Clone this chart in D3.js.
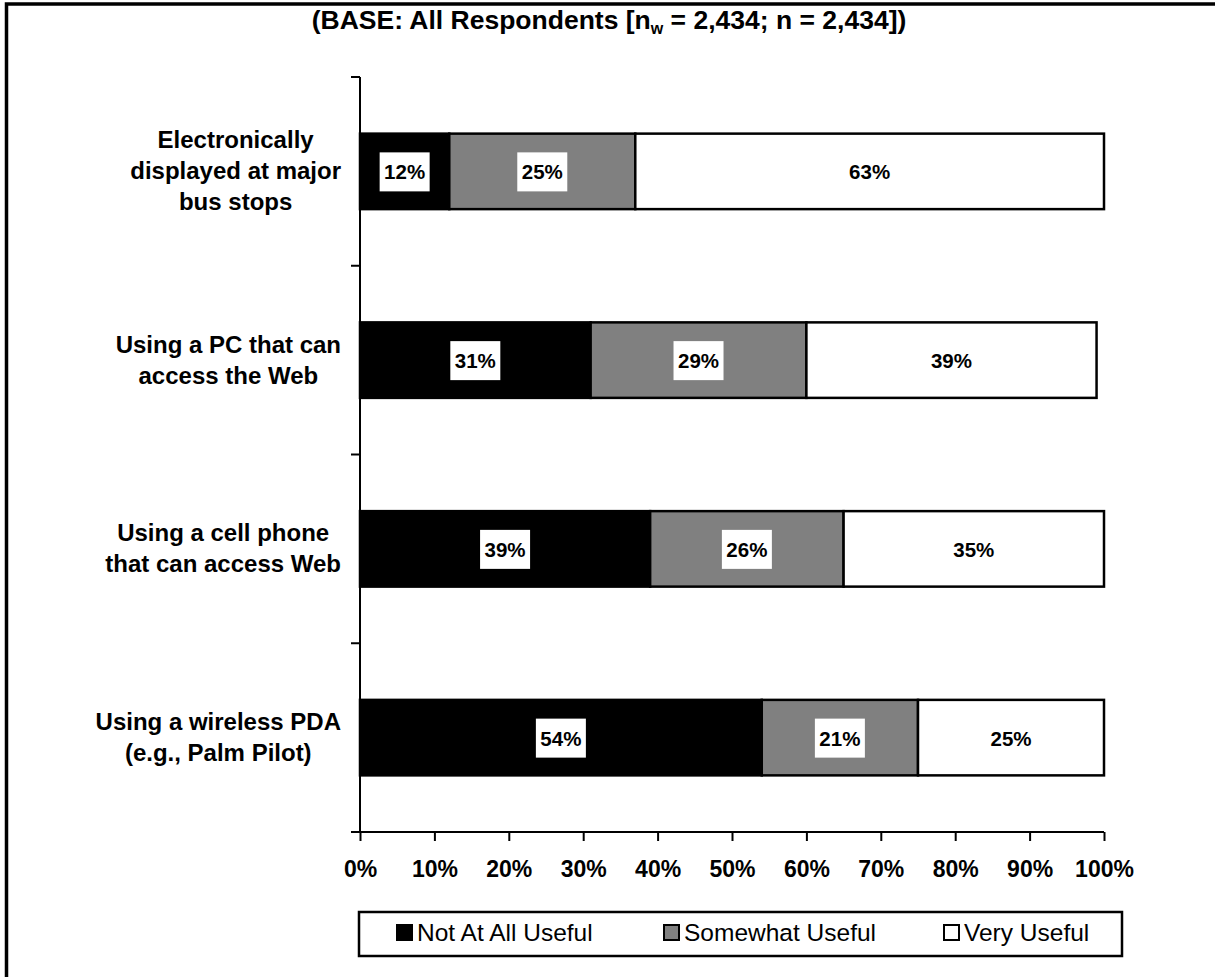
<!DOCTYPE html>
<html>
<head>
<meta charset="UTF-8">
<title>Usefulness of real-time bus information</title>
<style>
body { margin: 0; background: #fff; }
svg text { font-family: "Liberation Sans", Arial, sans-serif; }
.axis path, .axis line { stroke: #000; stroke-width: 2; }
</style>
</head>
<body>
<div id="chart"></div>
<script src="https://d3js.org/d3.v7.min.js"></script>
<script>
// categories, top to bottom
var categories = [
  ["Electronically", "displayed at major", "bus stops"],
  ["Using a PC that can", "access the Web"],
  ["Using a cell phone", "that can access Web"],
  ["Using a wireless PDA", "(e.g., Palm Pilot)"]
];
var seriesNames = ["Not At All Useful", "Somewhat Useful", "Very Useful"];
var seriesColors = ["#000000", "#808080", "#ffffff"];
var notAtAll = [12, 31, 39, 54];
var somewhat = [25, 29, 26, 21];
var very = [63, 39, 35, 25];
var xTicks = [0, 10, 20, 30, 40, 50, 60, 70, 80, 90, 100];

function drawChart() {
  var W = 1215, H = 977;
  var svg = d3.select("#chart").append("svg").attr("width", W).attr("height", H);

  // outer frame
  svg.append("rect").attr("x", 6.5).attr("y", 4).attr("width", W + 10).attr("height", H + 10)
    .attr("fill", "none").attr("stroke", "#000").attr("stroke-width", 3.5);

  // title
  var title = svg.append("text").attr("x", 609).attr("y", 29)
    .attr("text-anchor", "middle").attr("font-weight", "bold").attr("font-size", 26.5);
  title.append("tspan").text("(BASE: All Respondents [n");
  title.append("tspan").attr("font-size", 16).attr("dy", 5).text("w");
  title.append("tspan").attr("dy", -5).text(" = 2,434; n = 2,434])");

  var pl = 360, pr = 1104, pt = 77, pb = 832;
  var x = d3.scaleLinear().domain([0, 100]).range([pl, pr]);
  var idx = d3.range(categories.length);
  var y = d3.scaleBand().domain(idx).range([pt, pb]).paddingInner(0.6).paddingOuter(0.3);
  var yb = d3.scaleBand().domain(idx).range([pt, pb]);

  var segs = [];
  categories.forEach(function (c, i) {
    var vals = [notAtAll[i], somewhat[i], very[i]], acc = 0;
    vals.forEach(function (v, k) {
      segs.push({ row: i, k: k, v: v, x0: acc, x1: acc + v });
      acc += v;
    });
  });

  // bars
  svg.selectAll("rect.seg").data(segs).enter().append("rect").attr("class", "seg")
    .attr("x", function (d) { return x(d.x0); })
    .attr("y", function (d) { return y(d.row); })
    .attr("width", function (d) { return x(d.x1) - x(d.x0); })
    .attr("height", y.bandwidth())
    .attr("fill", function (d) { return seriesColors[d.k]; })
    .attr("stroke", "#000").attr("stroke-width", 2.5);

  // value labels with white boxes
  var lab = svg.selectAll("g.lab").data(segs).enter().append("g").attr("class", "lab")
    .attr("transform", function (d) {
      return "translate(" + x((d.x0 + d.x1) / 2) + "," + (y(d.row) + y.bandwidth() / 2) + ")";
    });
  lab.append("rect").attr("x", -25).attr("y", -19).attr("width", 50).attr("height", 39).attr("fill", "#fff");
  lab.append("text").attr("text-anchor", "middle").attr("dy", 8).attr("font-weight", "bold")
    .attr("font-size", 20.5).text(function (d) { return d.v + "%"; });

  // y axis
  svg.append("line").attr("x1", pl).attr("x2", pl).attr("y1", pt).attr("y2", pb)
    .attr("stroke", "#000").attr("stroke-width", 2);
  svg.selectAll("line.ytick").data(d3.range(categories.length + 1)).enter().append("line")
    .attr("class", "ytick").attr("x1", pl - 9).attr("x2", pl)
    .attr("y1", function (i) { return i < categories.length ? yb(i) : pb; })
    .attr("y2", function (i) { return i < categories.length ? yb(i) : pb; })
    .attr("stroke", "#000").attr("stroke-width", 2);

  // category labels: centred, but long lines pushed left so they stop short of the axis
  var labCx = 236, labMaxR = 341;
  svg.selectAll("text.cat").data(categories).enter().append("text").attr("class", "cat")
    .attr("font-weight", "bold").attr("font-size", 24)
    .each(function (lines, i) {
      var cy = y(i) + y.bandwidth() / 2;
      var lh = 31;
      var y0 = cy - (lines.length - 1) * lh / 2 + 8;
      var g = d3.select(this);
      var spans = g.selectAll("tspan").data(lines).enter().append("tspan")
        .attr("y", function (d, j) { return y0 + j * lh; }).text(function (d) { return d; });
      var widths = [];
      spans.each(function () { widths.push(this.getComputedTextLength()); });
      var shift = 0;
      widths.forEach(function (w) { shift = Math.max(shift, labCx + w / 2 - labMaxR); });
      spans.attr("x", function (d, j) { return labCx - shift - widths[j] / 2; });
    });

  // x axis
  var xAxis = svg.append("g").attr("class", "axis").attr("transform", "translate(0," + pb + ")")
    .call(d3.axisBottom(x).tickValues(xTicks).tickSize(9).tickSizeOuter(0).tickFormat(function (d) { return d + "%"; }));
  xAxis.select(".domain").attr("d", "M" + (pl - 9) + ",0H" + pr);
  xAxis.selectAll("text").attr("font-size", 23).attr("font-weight", "bold").attr("fill", "#000")
    .attr("font-family", "Liberation Sans, Arial, sans-serif").attr("dy", 0).attr("y", 45);

  // legend
  var lg = svg.append("g");
  lg.append("rect").attr("x", 359).attr("y", 912).attr("width", 763).attr("height", 44)
    .attr("fill", "#fff").attr("stroke", "#000").attr("stroke-width", 2.5);
  var legX = [396, 663, 943];
  var item = lg.selectAll("g.item").data(seriesNames).enter().append("g").attr("class", "item")
    .attr("transform", function (d, i) { return "translate(" + legX[i] + ",924)"; });
  item.append("rect").attr("x", 1).attr("y", 1).attr("width", 15).attr("height", 15)
    .attr("fill", function (d, i) { return seriesColors[i]; }).attr("stroke", "#000").attr("stroke-width", 2);
  item.append("text").attr("x", 21).attr("y", 17).attr("font-size", 24.5).text(function (d) { return d; });
}

drawChart();
</script>
</body>
</html>
